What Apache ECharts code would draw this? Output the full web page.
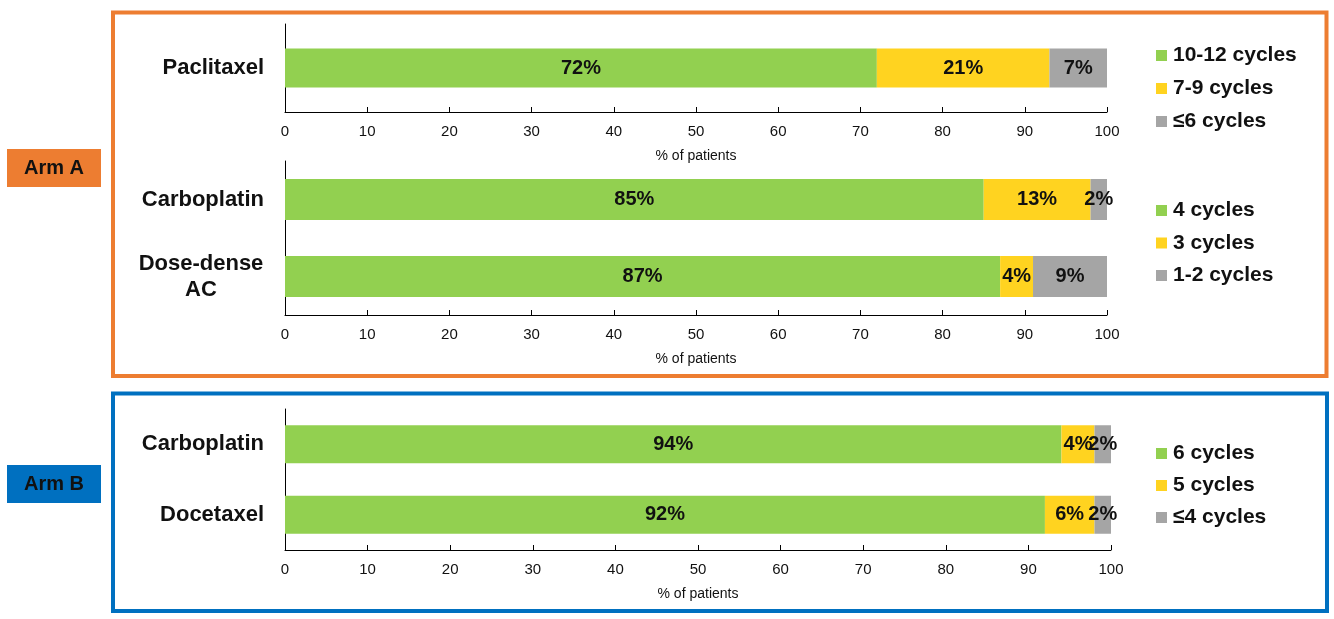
<!DOCTYPE html>
<html>
<head>
<meta charset="utf-8">
<script src="https://cdn.jsdelivr.net/npm/echarts@6/dist/echarts.min.js"></script>
<style>
  html, body { margin: 0; padding: 0; background: #fff; }
  #main { width: 1334px; height: 619px; }
</style>
</head>
<body>
<div id="main"></div>
<script>
// Arm A - paclitaxel
const topCats = ['Paclitaxel']
const topNames = ['10-12 cycles', '7-9 cycles', '≤6 cycles']
const topFull = [72]
const topMid = [21]
const topLow = [7]

// Arm A - carboplatin / AC
const midCats = ['Carboplatin', 'Dose-dense\nAC']
const midNames = ['4 cycles', '3 cycles', '1-2 cycles']
const midFull = [85, 87]
const midMid = [13, 4]
const midLow = [2, 9]

// Arm B
const botCats = ['Carboplatin', 'Docetaxel']
const botNames = ['6 cycles', '5 cycles', '≤4 cycles']
const botFull = [94, 92]
const botMid = [4, 6]
const botLow = [2, 2]

const xTicks = [0, 100, 10]  // min, max, interval

let colors = ['#92D050', '#FFD320', '#A5A5A5']
let font = 'Arial, "Liberation Sans", sans-serif'

function makeX (gi) {
  return {
    type: 'value',
    gridIndex: gi,
    min: xTicks[0],
    max: xTicks[1],
    interval: xTicks[2],
    name: '% of patients',
    nameLocation: 'middle',
    nameGap: 37,
    nameTextStyle: { color: '#111', fontSize: 14, fontFamily: font },
    axisLine: { show: true, lineStyle: { color: '#000', width: 1 } },
    axisTick: { show: true, inside: true, length: 5, lineStyle: { color: '#000' } },
    axisLabel: { color: '#111', fontSize: 15, margin: 12, fontFamily: font },
    splitLine: { show: false }
  }
}

function makeY (gi, cats) {
  return {
    type: 'category',
    gridIndex: gi,
    data: cats,
    inverse: true,
    axisLine: { show: true, lineStyle: { color: '#000', width: 1 } },
    axisTick: { show: false },
    axisLabel: {
      color: '#111', fontSize: 22, fontWeight: 'bold', margin: 21,
      lineHeight: 26, align: 'right', fontFamily: font,
      // two-line labels are centred on each other
      formatter: function (v) {
        if (v.indexOf('\n') < 0) return v
        return v.split('\n').map(function (s) { return '{c|' + s + '}' }).join('\n')
      },
      rich: {
        c: { width: 126, align: 'center', fontSize: 22, fontWeight: 'bold', lineHeight: 26, color: '#111', fontFamily: font }
      }
    }
  }
}

function makeSeries (gi, names, vals, barW) {
  let out = []
  for (let i = 0; i < names.length; i++) {
    out.push({
      name: names[i],
      type: 'bar',
      xAxisIndex: gi,
      yAxisIndex: gi,
      stack: 'g' + gi,
      barWidth: barW,
      data: vals[i],
      itemStyle: { color: colors[i] },
      label: {
        show: true,
        position: 'inside',
        formatter: '{c}%',
        color: '#111',
        fontSize: 20,
        fontWeight: 'bold',
        fontFamily: font
      }
    })
  }
  return out
}

function makeLegend (names, top, gap) {
  return {
    data: names,
    orient: 'vertical',
    left: 1156,
    top: top,
    padding: 0,
    icon: 'rect',
    itemWidth: 11,
    itemHeight: 11,
    itemGap: gap,
    selectedMode: false,
    textStyle: { color: '#111', fontSize: 21, fontWeight: 'bold', lineHeight: 20, padding: [0, 0, 0, 1], fontFamily: font }
  }
}

let option = {
  animation: false,
  backgroundColor: '#fff',
  grid: [
    { left: 285, right: 227, top: 24, height: 88 },
    { left: 285, right: 227, top: 161, height: 154 },
    { left: 285, right: 223, top: 409, height: 141 }
  ],
  xAxis: [makeX(0), makeX(1), makeX(2)],
  yAxis: [makeY(0, topCats), makeY(1, midCats), makeY(2, botCats)],
  legend: [
    makeLegend(topNames, 45, 12),
    makeLegend(midNames, 200, 11.5),
    makeLegend(botNames, 443, 11)
  ],
  series: [].concat(
    makeSeries(0, topNames, [topFull, topMid, topLow], 39),
    makeSeries(1, midNames, [midFull, midMid, midLow], 41),
    makeSeries(2, botNames, [botFull, botMid, botLow], 38)
  ),
  graphic: [
    // boxes round each arm
    { type: 'rect', shape: { x: 113, y: 12.5, width: 1213.5, height: 363.5 },
      style: { fill: 'none', stroke: '#ED7D31', lineWidth: 4 }, silent: true },
    { type: 'rect', shape: { x: 113, y: 393.5, width: 1214, height: 217.5 },
      style: { fill: 'none', stroke: '#0070C0', lineWidth: 4 }, silent: true },
    // arm tags
    { type: 'rect', shape: { x: 7, y: 149, width: 94, height: 38 }, style: { fill: '#ED7D31' } },
    { type: 'text', x: 54, y: 168, style: { text: 'Arm A', fill: '#111', font: 'bold 20px ' + font, textAlign: 'center', textVerticalAlign: 'middle' } },
    { type: 'rect', shape: { x: 7, y: 465, width: 94, height: 38 }, style: { fill: '#0070C0' } },
    { type: 'text', x: 54, y: 484, style: { text: 'Arm B', fill: '#111', font: 'bold 20px ' + font, textAlign: 'center', textVerticalAlign: 'middle' } }
  ]
}

let myChart = echarts.init(document.getElementById('main'))
myChart.setOption(option)
</script>
</body>
</html>
